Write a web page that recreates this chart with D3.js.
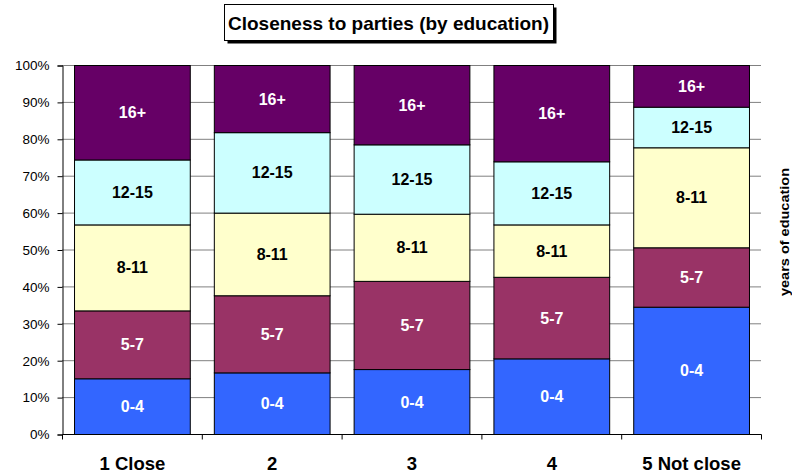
<!DOCTYPE html>
<html><head><meta charset="utf-8">
<script src="https://cdn.jsdelivr.net/npm/d3@7"></script>
<style>body{margin:0;background:#fff}svg{display:block;font-family:"Liberation Sans",Arial,sans-serif}</style>
</head><body><svg id="c" width="792" height="472"></svg>
<script>
const categories = ["1 Close", "2", "3", "4", "5 Not close"];
const seriesNames = ["0-4", "5-7", "8-11", "12-15", "16+"];
const s0_4   = [15.1, 16.7, 17.6, 20.5, 34.5];
const s5_7   = [18.4, 20.9, 23.9, 22.1, 16.1];
const s8_11  = [23.3, 22.4, 18.2, 14.2, 27.1];
const s12_15 = [17.6, 21.8, 18.8, 17.1, 11.0];
const s16p   = [25.6, 18.2, 21.5, 26.1, 11.3];
const yTicks = [0, 10, 20, 30, 40, 50, 60, 70, 80, 90, 100];
const colors = ["#3366FF", "#993366", "#FFFFCC", "#CCFFFF", "#660066"];
const labelColors = ["#fff", "#fff", "#000", "#000", "#fff"];

const seriesVals = [s0_4, s5_7, s8_11, s12_15, s16p];
const rows = categories.map((c, i) => {
  const r = {cat: c};
  seriesNames.forEach((s, j) => r[s] = seriesVals[j][i]);
  return r;
});
const stacked = d3.stack().keys(seriesNames).offset(d3.stackOffsetExpand)(rows);

const svg = d3.select("#c");
const L = 62, R = 761, T = 65, B = 434;
const x = d3.scaleBand().domain(categories).range([L, R]).paddingInner(0.172).paddingOuter(0.086);
const y = d3.scaleLinear().domain([0, 1]).range([B, T]);

// gridlines
svg.append("g").selectAll("line").data(yTicks.slice(1)).join("line")
  .attr("x1", L).attr("x2", R)
  .attr("y1", d => y(d / 100) + 0.5).attr("y2", d => y(d / 100) + 0.5)
  .attr("stroke", "#808080").attr("stroke-width", 1);

// bars
const g = svg.append("g");
stacked.forEach((ser, j) => {
  g.append("g").selectAll("rect").data(ser).join("rect")
    .attr("x", d => x(d.data.cat) + 0.5)
    .attr("y", d => y(d[1]) + 0.5)
    .attr("width", x.bandwidth())
    .attr("height", d => y(d[0]) - y(d[1]))
    .attr("fill", colors[j]).attr("stroke", "#000").attr("stroke-width", 1);
  g.append("g").selectAll("text").data(ser).join("text")
    .attr("x", d => x(d.data.cat) + x.bandwidth() / 2 + 0.5)
    .attr("y", d => (y(d[0]) + y(d[1])) / 2 + 6)
    .attr("text-anchor", "middle").attr("font-size", 16).attr("font-weight", "bold")
    .attr("fill", labelColors[j]).text(seriesNames[j]);
});

// y axis
const ya = d3.axisLeft(y).tickValues(yTicks.map(d => d / 100)).tickFormat(d => Math.round(d * 100) + "%").tickSizeOuter(0).tickSize(5).tickPadding(8);
const yg = svg.append("g").attr("transform", `translate(${L + 0.5},0.5)`).call(ya);
yg.selectAll("text").attr("font-size", 13.5).attr("font-family", "'Liberation Sans',Arial,sans-serif").attr("fill", "#000");
yg.selectAll("line,path").attr("stroke", "#000");

// x axis
const xa = d3.axisBottom(x).tickSize(0).tickFormat("");
const xg = svg.append("g").attr("transform", `translate(0.5,${B + 0.5})`).call(xa);
xg.select("path").attr("stroke", "#000").attr("d", `M${L},0H${R}`);
const bounds = d3.range(0, categories.length + 1).map(i => L + i * (R - L) / categories.length);
xg.append("g").selectAll("line").data(bounds).join("line")
  .attr("x1", d => d).attr("x2", d => d).attr("y1", 0).attr("y2", 5).attr("stroke", "#000");
xg.append("g").selectAll("text").data(categories).join("text")
  .attr("x", d => x(d) + x.bandwidth() / 2).attr("y", 35)
  .attr("text-anchor", "middle").attr("font-size", 18.5).attr("font-weight", "bold").attr("fill", "#000")
  .text(d => d);

// right label
svg.append("text").attr("transform", "translate(789,232) rotate(-90)")
  .attr("text-anchor", "middle").attr("font-size", 13).attr("font-weight", "bold")
  .attr("textLength", 128).attr("lengthAdjust", "spacingAndGlyphs").text("years of education");

// title box
const tb = {x: 224, y: 4, w: 329, h: 36};
svg.append("rect").attr("x", tb.x + 3.5).attr("y", tb.y + 3.5).attr("width", tb.w).attr("height", tb.h).attr("fill", "#000");
svg.append("rect").attr("x", tb.x + 0.5).attr("y", tb.y + 0.5).attr("width", tb.w).attr("height", tb.h).attr("fill", "#fff").attr("stroke", "#000");
svg.append("text").attr("x", tb.x + tb.w / 2).attr("y", 29.5).attr("text-anchor", "middle")
  .attr("font-size", 19).attr("font-weight", "bold").text("Closeness to parties (by education)");
</script></body></html>
